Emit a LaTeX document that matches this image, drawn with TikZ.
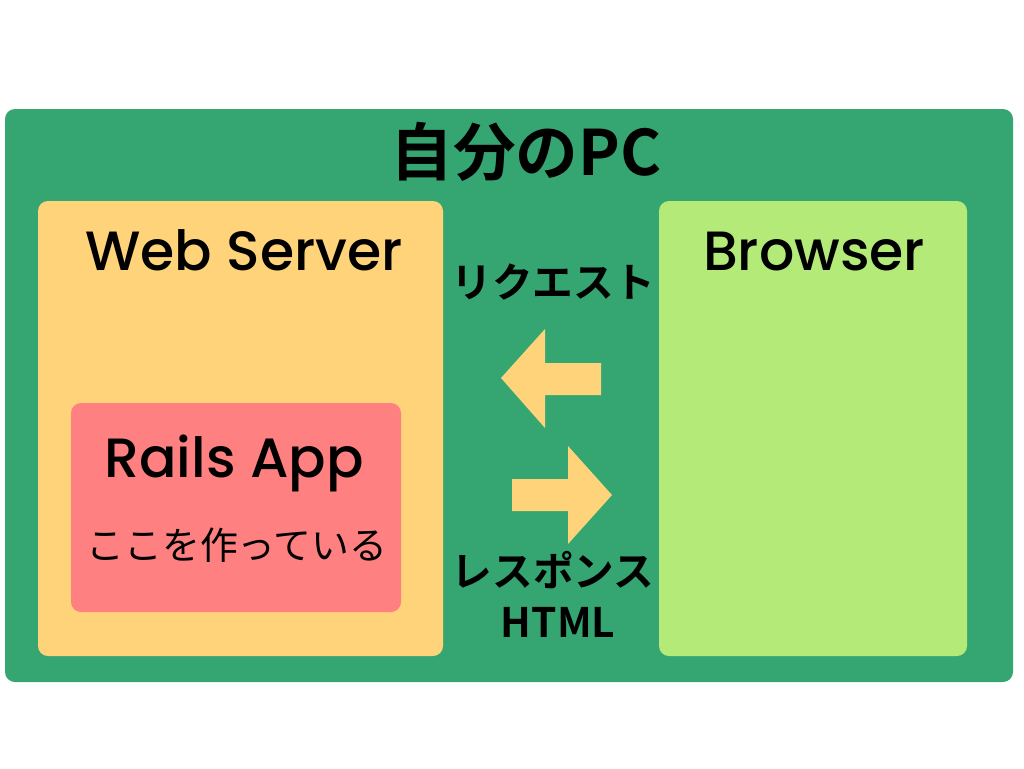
\documentclass[tikz,border=0pt]{standalone}
\usepackage{fontspec}
\setmainfont{Noto Sans CJK JP}
\newfontfamily\jpbold{Noto Sans CJK JP Bold}
\newfontfamily\latinfont{Poppins}[UprightFont=* Medium]
\definecolor{pcgreen}{HTML}{35A672}
\definecolor{webyellow}{HTML}{FFD37A}
\definecolor{railsred}{HTML}{FF8080}
\definecolor{browsergreen}{HTML}{B3EA78}

\begin{document}
\begin{tikzpicture}[x=0.75pt,y=-0.75pt,
        box/.style={rounded corners=7.5pt},
        label/.style={inner sep=0pt,anchor=base,font=\latinfont\fontsize{41.5}{44}\selectfont},
        jplabel/.style={inner sep=0pt,font=\jpbold\fontsize{30.5}{34}\selectfont}]
            \useasboundingbox (0,0) rectangle (1024,768);
            \fill[box,pcgreen] (5,109) rectangle (1013,682);
            \fill[box,webyellow] (38,201) rectangle (443,656);
            \fill[box,railsred] (71,403) rectangle (401,612);
            \fill[box,browsergreen] (659,201) rectangle (967,656);
            \node[inner sep=0pt,font=\jpbold\fontsize{47}{50}\selectfont] (pc) at (526,152) {自分のPC};
            \node[label] (web) at (244,270) {Web Server};
            \node[label] (rails) at (234,477) {Rails App};
            \node[inner sep=0pt,font=\fontsize{28.4}{32}\selectfont] (note) at (237,545) {ここを作っている};
            \node[label] (browser) at (814,270) {Browser};
            \node[jplabel] (req) at (553,282) {リクエスト};
            \node[jplabel] (res) at (553,570) {レスポンス};
            \node[jplabel] (html) at (558,622) {HTML};
            \fill[webyellow] (501,378) -- (545,329) -- (545,363) -- (601,363)
                -- (601,395) -- (545,395) -- (545,428) -- cycle;
            \fill[webyellow] (612,495) -- (568,446) -- (568,479) -- (512,479)
                -- (512,511) -- (568,511) -- (568,544) -- cycle;
        \end{tikzpicture}
\end{document}
